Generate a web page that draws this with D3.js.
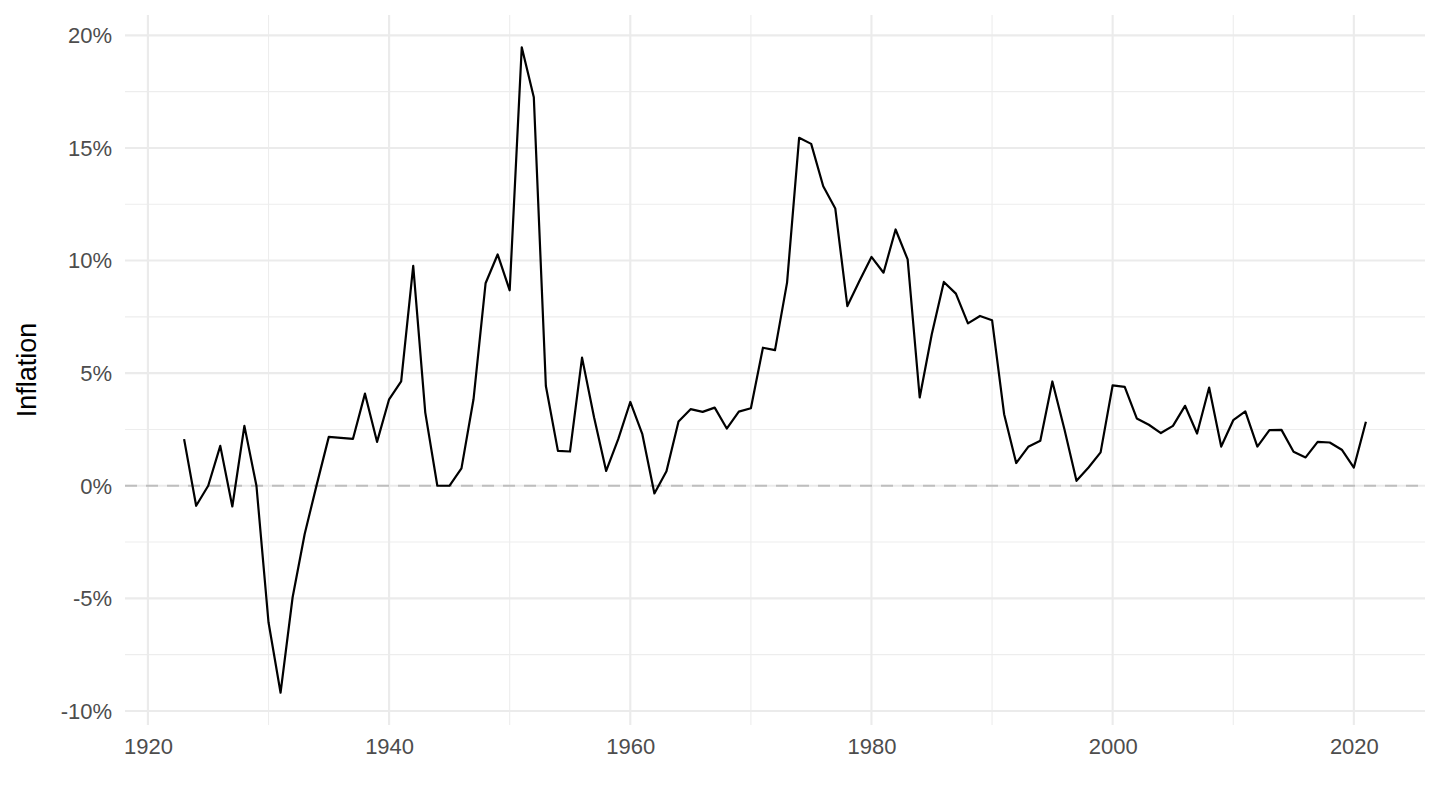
<!DOCTYPE html>
<html>
<head>
<meta charset="utf-8">
<script src="https://cdn.jsdelivr.net/npm/d3@7"></script>
<style>
  html, body { margin: 0; padding: 0; background: #fff; }
  svg { display: block; font-family: "Liberation Sans", Arial, sans-serif; }
</style>
</head>
<body>
<svg id="chart" width="1440" height="810"></svg>
<script>
const years = d3.range(1923, 2022);
const inflation = [
  2.07, -0.89, 0.00, 1.77, -0.92, 2.66, 0.00, -6.06, -9.19, -4.95,
  -2.14, 0.05, 2.17, 2.13, 2.08, 4.09, 1.95, 3.84, 4.63, 9.76,
  3.25, 0.00, 0.00, 0.77, 3.84, 8.99, 10.27, 8.68, 19.47, 17.25,
  4.43, 1.55, 1.52, 5.69, 3.03, 0.66, 2.07, 3.72, 2.29, -0.34,
  0.64, 2.85, 3.40, 3.28, 3.47, 2.54, 3.29, 3.44, 6.13, 6.02,
  9.02, 15.45, 15.18, 13.30, 12.31, 7.98, 9.09, 10.16, 9.46, 11.38,
  10.05, 3.92, 6.73, 9.05, 8.53, 7.21, 7.54, 7.35, 3.18, 1.01,
  1.73, 2.00, 4.63, 2.51, 0.22, 0.81, 1.48, 4.46, 4.39, 2.99,
  2.71, 2.34, 2.66, 3.55, 2.32, 4.36, 1.74, 2.91, 3.30, 1.74,
  2.47, 2.48, 1.51, 1.26, 1.95, 1.92, 1.60, 0.81, 2.84
];
const xTicks = [1920, 1940, 1960, 1980, 2000, 2020];
const xMinor = [1930, 1950, 1970, 1990, 2010];
const yTicks = [-10, -5, 0, 5, 10, 15, 20];
const yMinor = [-7.5, -2.5, 2.5, 7.5, 12.5, 17.5];

(function () {
const data = years.map((yr, i) => ({ year: yr, value: inflation[i] }));

const svg = d3.select("#chart");
const pL = 125, pR = 1425, pT = 15, pB = 725;

const xMin = d3.min(years), xMax = d3.max(years);
const xPad = (xMax - xMin) * 0.05;
const x = d3.scaleLinear().domain([xMin - xPad, xMax + xPad]).range([pL, pR]);
const vMin = d3.min(inflation), vMax = d3.max(inflation);
const yPad = (vMax - vMin) * 0.05;
const y = d3.scaleLinear().domain([vMin - yPad, vMax + yPad]).range([pB, pT]);

const grid = svg.append("g");
grid.selectAll(".ymin").data(yMinor).enter().append("line")
  .attr("x1", pL).attr("x2", pR)
  .attr("y1", d => y(d)).attr("y2", d => y(d))
  .attr("stroke", "#ededed").attr("stroke-width", 1.1);
grid.selectAll(".xmin").data(xMinor).enter().append("line")
  .attr("y1", pT).attr("y2", pB)
  .attr("x1", d => x(d)).attr("x2", d => x(d))
  .attr("stroke", "#ededed").attr("stroke-width", 1.1);
grid.selectAll(".ymaj").data(yTicks).enter().append("line")
  .attr("x1", pL).attr("x2", pR)
  .attr("y1", d => y(d)).attr("y2", d => y(d))
  .attr("stroke", "#ebebeb").attr("stroke-width", 2.1);
grid.selectAll(".xmaj").data(xTicks).enter().append("line")
  .attr("y1", pT).attr("y2", pB)
  .attr("x1", d => x(d)).attr("x2", d => x(d))
  .attr("stroke", "#ebebeb").attr("stroke-width", 2.1);

svg.append("line")
  .attr("x1", pL).attr("x2", pR)
  .attr("y1", y(0)).attr("y2", y(0))
  .attr("stroke", "#bebebe").attr("stroke-width", 2)
  .attr("stroke-dasharray", "12,9");

const line = d3.line().x(d => x(d.year)).y(d => y(d.value));
svg.append("path").datum(data)
  .attr("d", line)
  .attr("fill", "none")
  .attr("stroke", "#000")
  .attr("stroke-width", 2.2)
  .attr("stroke-linejoin", "round");

const yAxis = d3.axisLeft(y).tickValues(yTicks).tickSize(0).tickPadding(13)
  .tickFormat(d => d + "%");
const gy = svg.append("g").attr("transform", `translate(${pL},0)`).call(yAxis);
gy.select(".domain").remove();
gy.selectAll("text").attr("fill", "#4d4d4d").attr("dy", "0.33em")
  .style("font-size", "22px")
  .style("font-family", "'Liberation Sans', Arial, sans-serif");

const xAxis = d3.axisBottom(x).tickValues(xTicks).tickSize(0).tickPadding(13)
  .tickFormat(d3.format("d"));
const gx = svg.append("g").attr("transform", `translate(0,${pB})`).call(xAxis);
gx.select(".domain").remove();
gx.selectAll("text").attr("fill", "#4d4d4d")
  .style("font-size", "22px")
  .style("font-family", "'Liberation Sans', Arial, sans-serif");

svg.append("text")
  .attr("transform", `translate(36,${(pT + pB) / 2}) rotate(-90)`)
  .attr("text-anchor", "middle")
  .attr("fill", "#000")
  .style("font-size", "27px")
  .text("Inflation");
})();
</script>
</body>
</html>
